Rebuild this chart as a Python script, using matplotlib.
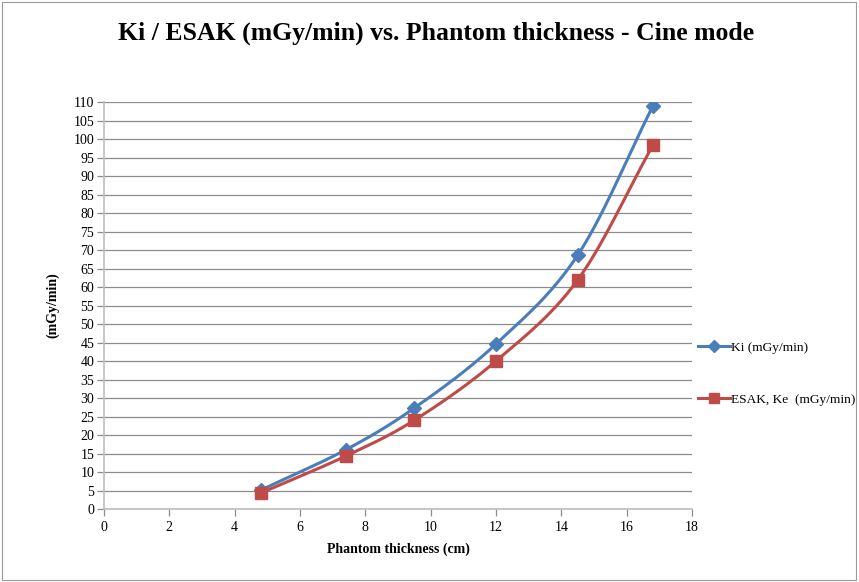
import numpy as np
import matplotlib
matplotlib.use("Agg")
import matplotlib.pyplot as plt
from matplotlib.patches import Rectangle

# phantom thickness (cm) and measured dose rates (mGy/min)
thickness = [4.8, 7.4, 9.5, 12.0, 14.5, 16.8]
ki = [5.1, 16.0, 27.3, 44.6, 68.6, 108.9]
esak = [4.3, 14.3, 24.0, 40.0, 61.9, 98.3]

series_names = ["Ki (mGy/min)", "ESAK, Ke  (mGy/min)"]
colors = ["#4A7EBB", "#BE4B48"]
markers = ["D", "s"]


def smooth(xs, ys, n=30):
    # catmull-rom style smoothing, like the spreadsheet's smoothed line
    xs = np.asarray(xs, float)
    ys = np.asarray(ys, float)
    px = np.concatenate([[2 * xs[0] - xs[1]], xs, [2 * xs[-1] - xs[-2]]])
    py = np.concatenate([[2 * ys[0] - ys[1]], ys, [2 * ys[-1] - ys[-2]]])
    outx, outy = [], []
    t = np.linspace(0, 1, n)
    for i in range(1, len(px) - 2):
        for arr, out in ((px, outx), (py, outy)):
            p0, p1, p2, p3 = arr[i - 1], arr[i], arr[i + 1], arr[i + 2]
            m1 = (p2 - p0) / 2
            m2 = (p3 - p1) / 2
            h00 = 2 * t**3 - 3 * t**2 + 1
            h10 = t**3 - 2 * t**2 + t
            h01 = -2 * t**3 + 3 * t**2
            h11 = t**3 - t**2
            out.extend(h00 * p1 + h10 * m1 + h01 * p2 + h11 * m2)
    return np.array(outx), np.array(outy)


plt.rcParams["font.family"] = ["Liberation Serif", "DejaVu Serif"]

fig = plt.figure(figsize=(8.59, 5.82), dpi=100)
fig.patches.append(Rectangle((0.002, 0.004), 0.994, 0.992, transform=fig.transFigure,
                             fill=False, edgecolor="#9a9a9a", linewidth=0.8))
ax = fig.add_axes([0.121, 0.1254, 0.6846, 0.6993])

handles = []
for ys, c, m, name in zip([ki, esak], colors, markers, series_names):
    sx, sy = smooth(thickness, ys)
    ax.plot(sx, sy, color=c, linewidth=2.2, zorder=3)
    ax.plot(thickness, ys, linestyle="none", marker=m, color=c,
            markersize=7 if m == "D" else 8, zorder=4)
    h, = ax.plot([], [], color=c, linewidth=2.2, marker=m,
                 markersize=6 if m == "D" else 7, label=name)
    handles.append(h)

ax.set_xlim(0, 18)
ax.set_ylim(0, 110)
ax.set_xticks(range(0, 19, 2))
ax.set_yticks(range(0, 111, 5))
ax.yaxis.grid(True, color="#8c8c8c", linewidth=0.9)
ax.set_axisbelow(True)
for s in ["top", "right"]:
    ax.spines[s].set_visible(False)
for s in ["left", "bottom"]:
    ax.spines[s].set_color("#bdbdbd")
    ax.spines[s].set_linewidth(1.2)
ax.tick_params(axis="both", labelsize=10, color="#8c8c8c", length=5, width=0.9)
ax.tick_params(axis="y", pad=2)

ax.set_xlabel("Phantom thickness (cm)", fontsize=10, fontweight="bold", labelpad=6)
ax.set_ylabel("(mGy/min)", fontsize=10, fontweight="bold", labelpad=10)

fig.text(0.508, 0.943, "Ki / ESAK (mGy/min) vs. Phantom thickness - Cine mode",
         ha="center", va="center", fontsize=18.5, fontweight="bold")

fig.legend(handles=handles, loc="center left", bbox_to_anchor=(0.806, 0.358),
           frameon=False, fontsize=9.6, handlelength=2.4, handletextpad=0.1,
           labelspacing=3.0, borderaxespad=0)

fig.savefig("out.png", dpi=100)
